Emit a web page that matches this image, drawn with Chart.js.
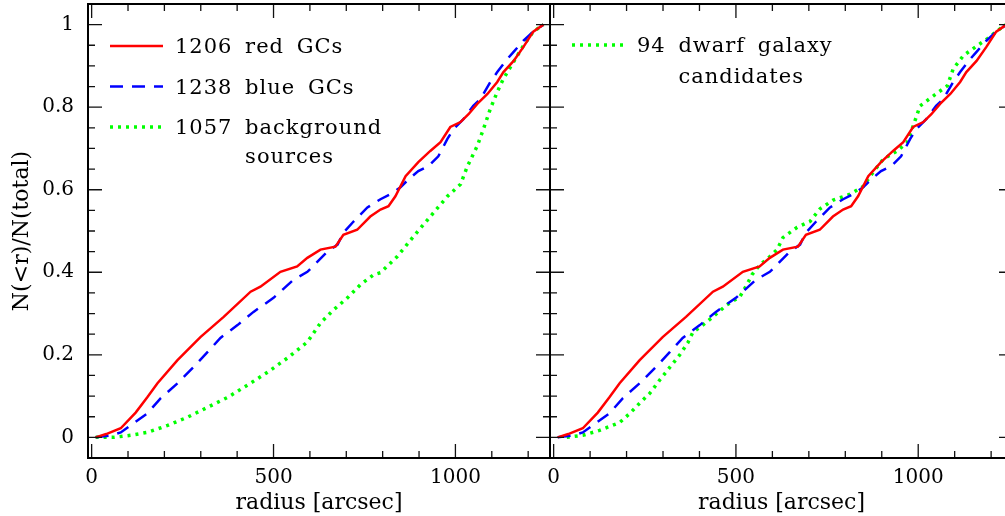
<!DOCTYPE html>
<html>
<head>
<meta charset="utf-8">
<script src="https://cdn.jsdelivr.net/npm/chart.js@4.4.0/dist/chart.umd.min.js"></script>
<style>
  html, body { margin: 0; padding: 0; background: #fff; overflow: hidden; }
  #wrap { position: relative; width: 1005px; height: 516px; overflow: hidden; }
  canvas { position: absolute; top: 0; }
</style>
</head>
<body>
<div id="wrap">
  <canvas id="leftPanel" width="552" height="516" style="left:0"></canvas>
  <canvas id="rightPanel" width="480" height="516" style="left:540px"></canvas>
</div>
<script>
// cumulative radial distributions N(<r)/N(total)
const redR = [11, 40, 80, 121, 153, 181, 236, 299, 363, 437, 464, 519, 565, 593, 629, 670, 692, 730, 766, 794, 816, 835, 863, 898, 931, 959, 986, 1014, 1036, 1060, 1088, 1115, 1132, 1160, 1187, 1214, 1242]
const redF = [0, 0.008, 0.022, 0.06, 0.097, 0.131, 0.187, 0.243, 0.292, 0.353, 0.365, 0.401, 0.414, 0.435, 0.455, 0.462, 0.491, 0.503, 0.535, 0.552, 0.56, 0.584, 0.633, 0.667, 0.694, 0.715, 0.752, 0.764, 0.783, 0.808, 0.832, 0.861, 0.885, 0.912, 0.946, 0.983, 1.0]

const blueR = [11, 50, 80, 115, 153, 190, 236, 280, 319, 354, 401, 445, 500, 555, 593, 648, 676, 692, 720, 758, 794, 821, 849, 871, 898, 926, 953, 978, 995, 1022, 1049, 1069, 1096, 1115, 1143, 1160, 1187, 1214, 1242]
const blueF = [0, 0.004, 0.012, 0.034, 0.058, 0.095, 0.131, 0.170, 0.207, 0.241, 0.272, 0.304, 0.338, 0.382, 0.401, 0.450, 0.467, 0.496, 0.523, 0.557, 0.577, 0.589, 0.606, 0.625, 0.645, 0.657, 0.681, 0.723, 0.747, 0.771, 0.803, 0.82, 0.861, 0.885, 0.917, 0.934, 0.961, 0.983, 1.0]

const bgR = [11, 60, 107, 153, 209, 264, 319, 374, 429, 484, 538, 593, 629, 665, 703, 739, 775, 794, 840, 885, 931, 978, 1014, 1033, 1060, 1077, 1096, 1115, 1132, 1160, 1187, 1214, 1242]
const bgF = [0, 0, 0.005, 0.012, 0.029, 0.049, 0.073, 0.097, 0.127, 0.158, 0.192, 0.231, 0.277, 0.309, 0.338, 0.370, 0.394, 0.399, 0.438, 0.487, 0.535, 0.584, 0.613, 0.657, 0.706, 0.747, 0.796, 0.837, 0.869, 0.910, 0.949, 0.983, 1.0]

const dwarfR = [36, 80, 126, 181, 209, 236, 264, 291, 319, 346, 368, 382, 409, 437, 475, 511, 530, 544, 566, 593, 613, 629, 668, 703, 731, 767, 813, 849, 876, 904, 942, 970, 986, 1005, 1041, 1080, 1096, 1124, 1162, 1190, 1217, 1239]
const dwarfF = [0, 0.005, 0.017, 0.036, 0.058, 0.083, 0.107, 0.139, 0.170, 0.2, 0.229, 0.255, 0.272, 0.292, 0.321, 0.341, 0.370, 0.394, 0.418, 0.438, 0.455, 0.484, 0.509, 0.523, 0.554, 0.575, 0.589, 0.608, 0.642, 0.674, 0.694, 0.715, 0.754, 0.803, 0.827, 0.852, 0.893, 0.925, 0.949, 0.966, 0.985, 1.0]

const xMajor = [0, 500, 1000]
const xMinor = [100, 200, 300, 400, 600, 700, 800, 900, 1100, 1200]
const yMajor = [0, 0.2, 0.4, 0.6, 0.8, 1]
const yMinor = [0.05, 0.1, 0.15, 0.25, 0.3, 0.35, 0.45, 0.5, 0.55, 0.65, 0.7, 0.75, 0.85, 0.9, 0.95]

const FONT = "'DejaVu Serif', serif"
Chart.defaults.font.family = FONT
Chart.defaults.color = '#000'

function pairs(r, f) {
    return r.map((v, i) => ({x: v, y: f[i]}))
}

// frame with inward ticks on all four sides (supermongo style box)
const boxTicks = {
    id: 'boxTicks',
    afterDraw(chart) {
        const {ctx, chartArea: a, scales: {x, y}} = chart
        const seg = (x1, y1, x2, y2) => { ctx.moveTo(x1, y1); ctx.lineTo(x2, y2) }
        ctx.save()
        ctx.strokeStyle = '#111'
        ctx.lineWidth = 1.3
        ctx.beginPath()
        xMajor.concat(xMinor).forEach(v => {
            const px = x.getPixelForValue(v)
            const len = xMajor.includes(v) ? 14 : 7
            seg(px, a.bottom, px, a.bottom - len)
            seg(px, a.top, px, a.top + len)
        })
        yMajor.concat(yMinor).forEach(v => {
            const py = y.getPixelForValue(v)
            const len = yMajor.includes(v) ? 14 : 7
            seg(a.left, py, a.left + len, py)
            seg(a.right, py, a.right - len, py)
        })
        ctx.stroke()
        ctx.strokeStyle = '#000'
        ctx.lineWidth = 2
        ctx.strokeRect(a.left, a.top, a.right - a.left, a.bottom - a.top)
        ctx.restore()
    }
}

// legend written inside the box, line sample then text
const boxLegend = {
    id: 'boxLegend',
    afterDatasetsDraw(chart, args, opts) {
        const {ctx, chartArea: a} = chart
        ctx.save()
        ctx.font = opts.font
        ctx.letterSpacing = '1px'
        ctx.wordSpacing = '5px'
        ctx.fillStyle = '#000'
        ctx.textBaseline = 'alphabetic'
        let base = a.top + opts.top
        chart.data.datasets.forEach(ds => {
            if (!ds.legendLines) return
            const ly = base - 7
            ctx.beginPath()
            ctx.strokeStyle = ds.borderColor
            ctx.lineWidth = ds.borderWidth
            ctx.setLineDash(ds.borderDash || [])
            ctx.moveTo(a.left + 22, ly)
            ctx.lineTo(a.left + 75, ly)
            ctx.stroke()
            const tx = a.left + 87
            const indent = ctx.measureText(ds.legendLines[0].split(' ')[0] + ' ').width
            ds.legendLines.forEach((line, k) => {
                ctx.fillText(line, k ? tx + indent : tx, base + k * opts.lineHeight)
            })
            base += opts.rowGap
        })
        ctx.restore()
    }
}

function redSet() {
    return {data: pairs(redR, redF), borderColor: '#ff0000', borderWidth: 2.5,
        legendLines: ['1206 red GCs']}
}
function blueSet() {
    return {data: pairs(blueR, blueF), borderColor: '#0000ff', borderWidth: 2.5,
        borderDash: [13, 9], legendLines: ['1238 blue GCs']}
}

function makePanel(id, datasets, showY, padding, legendOpts) {
    return new Chart(document.getElementById(id), {
        type: 'line',
        data: {datasets: datasets},
        options: {
            responsive: false,
            animation: false,
            layout: {padding: padding},
            elements: {
                point: {radius: 0},
                line: {tension: 0, borderCapStyle: 'butt', fill: false}
            },
            plugins: {
                legend: {display: false},
                tooltip: {enabled: false},
                boxLegend: legendOpts
            },
            scales: {
                x: {
                    type: 'linear',
                    min: -10,
                    max: 1260,
                    grid: {display: false, drawTicks: false},
                    border: {display: false},
                    afterBuildTicks: s => { s.ticks = xMajor.map(v => ({value: v})) },
                    afterFit: s => { s.height = 58; s.paddingLeft = 0; s.paddingRight = 0 },
                    ticks: {padding: 8, font: {size: 20}, maxRotation: 0, callback: v => String(v)},
                    title: {display: true, text: 'radius [arcsec]', font: {size: 22},
                        padding: {top: 0, bottom: 0}}
                },
                y: {
                    display: showY,
                    min: -0.05,
                    max: 1.05,
                    grid: {display: false, drawTicks: false},
                    border: {display: false},
                    afterBuildTicks: s => { s.ticks = yMajor.map(v => ({value: v})) },
                    afterFit: s => { s.width = showY ? 88 : 0; s.paddingTop = 0; s.paddingBottom = 0 },
                    ticks: {padding: 14, font: {size: 20}, callback: v => String(+v.toFixed(2))},
                    title: {display: true, text: 'N(<r)/N(total)', font: {size: 22},
                        padding: {top: 9, bottom: 0}}
                }
            }
        },
        plugins: [boxTicks, boxLegend]
    })
}

makePanel('leftPanel', [
    redSet(),
    blueSet(),
    {data: pairs(bgR, bgF), borderColor: '#00ff00', borderWidth: 3.5,
        borderDash: [3, 5], legendLines: ['1057 background', 'sources']}
], true, {left: 0, right: 2, top: 4, bottom: 0},
   {font: '21px ' + FONT, top: 49, rowGap: 40.5, lineHeight: 28.5})

const rightRed = redSet(), rightBlue = blueSet()
delete rightRed.legendLines
delete rightBlue.legendLines
makePanel('rightPanel', [
    rightRed,
    rightBlue,
    {data: pairs(dwarfR, dwarfF), borderColor: '#00ff00', borderWidth: 3.5,
        borderDash: [3, 5], legendLines: ['94 dwarf galaxy', 'candidates']}
], false, {left: 10, right: 7, top: 4, bottom: 0},
   {font: '21px ' + FONT, top: 48, rowGap: 40.5, lineHeight: 31})
</script>
</body>
</html>
